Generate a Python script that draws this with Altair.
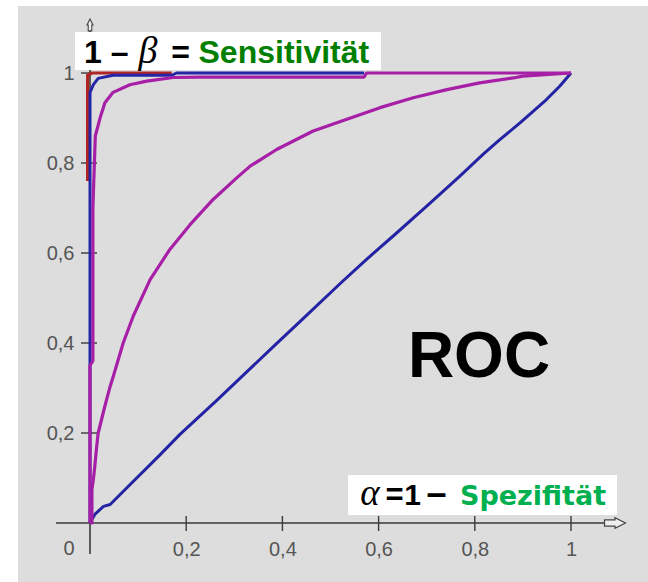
import altair as alt
import pandas as pd

# --- ROC curves: false positive rate (alpha) vs. true positive rate (1 - beta) ---
diag_x = [0.0, 0.01, 0.028, 0.042, 0.083, 0.146, 0.187, 0.263, 0.333, 0.385, 0.437,
          0.523, 0.575, 0.638, 0.707, 0.769, 0.817, 0.852, 0.894, 0.949, 0.977, 1.0]
diag_y = [0.0, 0.019, 0.037, 0.041, 0.085, 0.152, 0.197, 0.272, 0.343, 0.396, 0.448,
          0.535, 0.586, 0.645, 0.711, 0.771, 0.819, 0.852, 0.889, 0.941, 0.971, 1.0]

mid_x = [0.0, 0.004, 0.004, 0.007, 0.01, 0.014, 0.017, 0.024, 0.031, 0.042, 0.0485,
         0.069, 0.09, 0.125, 0.166, 0.208, 0.256, 0.305, 0.333, 0.388, 0.464, 0.534,
         0.603, 0.672, 0.742, 0.81, 0.88, 0.9, 1.0]
mid_y = [0.0, 0.0, 0.074, 0.097, 0.126, 0.171, 0.2, 0.23, 0.26, 0.304, 0.326,
         0.40, 0.46, 0.541, 0.608, 0.663, 0.719, 0.767, 0.793, 0.83, 0.871, 0.897,
         0.923, 0.945, 0.963, 0.978, 0.989, 0.993, 1.0]

red_x = [-0.005, -0.005, 0.004, 0.17]
red_y = [0.76, 0.995, 1.0, 1.0]

blue_x = [0.0, 0.0, 0.007, 0.017, 0.048, 0.17, 0.18, 0.57]
blue_y = [0.0, 0.957, 0.974, 0.988, 0.995, 0.995, 1.0, 1.0]

upper_x = [0.0, 0.0, 0.006, 0.006, 0.011, 0.022, 0.031, 0.048, 0.083, 0.118, 0.173,
           0.229, 0.57, 0.575, 1.0]
upper_y = [0.0, 0.35, 0.36, 0.70, 0.86, 0.904, 0.934, 0.957, 0.974, 0.982, 0.99,
           0.991, 0.991, 1.0, 1.0]

tick_values = [0.2, 0.4, 0.6, 0.8, 1.0]

W, H = 481, 450
LABEL_EXPR = "datum.value == 1 ? '1' : replace(format(datum.value, '.1f'), '.', ',')"

x_scale = alt.Scale(domain=[0, 1], nice=False, zero=False)
y_scale = alt.Scale(domain=[0, 1], nice=False, zero=False)


def make_axis():
    return alt.Axis(values=tick_values, labelExpr=LABEL_EXPR, domain=False, ticks=False,
                    tickSize=0, grid=False, labelFont="Liberation Sans", labelFontSize=20,
                    labelColor="#555555", labelPadding=16, labelFlush=False,
                    labelOverlap=False, zindex=1)


x_axis = make_axis()
y_axis = make_axis()


def curve_df(xs, ys):
    return pd.DataFrame({"fpr": xs, "tpr": ys, "i": list(range(len(xs)))})


def curve(xs, ys, color, width=3.2):
    return alt.Chart(curve_df(xs, ys)).mark_line(
        color=color, strokeWidth=width, clip=False, strokeJoin="round"
    ).encode(
        x=alt.X("fpr:Q", scale=x_scale, axis=x_axis, title=None),
        y=alt.Y("tpr:Q", scale=y_scale, axis=y_axis, title=None),
        order="i:Q",
    )


one = pd.DataFrame({"k": [0]})
ticks_df = pd.DataFrame({"v": tick_values})

# grey panel behind everything
panel = alt.Chart(one).mark_rect(color="#dddddd").encode(
    x=alt.value(-72), x2=alt.value(558), y=alt.value(-67), y2=alt.value(509)
)

AXIS_COLOR = "#3a3a3a"
x_line = alt.Chart(one).mark_rule(color=AXIS_COLOR, strokeWidth=1.6).encode(
    x=alt.value(-34), x2=alt.value(520), y=alt.value(H)
)
y_line = alt.Chart(one).mark_rule(color=AXIS_COLOR, strokeWidth=1.6).encode(
    x=alt.value(0), y=alt.value(-46), y2=alt.value(481)
)
x_ticks = alt.Chart(ticks_df).mark_rule(color=AXIS_COLOR, strokeWidth=1.4).encode(
    x=alt.X("v:Q", scale=x_scale), y=alt.value(H - 7), y2=alt.value(H + 8)
)
y_ticks = alt.Chart(ticks_df).mark_rule(color=AXIS_COLOR, strokeWidth=1.4).encode(
    y=alt.Y("v:Q", scale=y_scale), x=alt.value(-9), x2=alt.value(7)
)

ARROW = "M -1 -0.3 L 0 -0.3 L 0 -0.5 L 1 0 L 0 0.5 L 0 0.3 L -1 0.3 Z"
x_arrow = alt.Chart(one).mark_point(
    shape=ARROW, size=440, filled=True, fill="#eeeeee", stroke="#444444",
    strokeWidth=1.2, opacity=1
).encode(x=alt.value(525), y=alt.value(H))
y_arrow = alt.Chart(one).mark_point(
    shape=ARROW, size=140, angle=270, filled=True, fill="#eeeeee", stroke="#444444",
    strokeWidth=1.1, opacity=1
).encode(x=alt.value(0), y=alt.value(-48))

origin_label = alt.Chart(one).mark_text(
    text="0", font="Liberation Sans", fontSize=20, color="#555555",
    align="center", baseline="top"
).encode(x=alt.value(-21), y=alt.value(H + 16))


def label(txt, x, y, size, color="black", font="Liberation Sans", style="normal",
          weight="bold", align="left"):
    return alt.Chart(one).mark_text(
        text=txt, font=font, fontSize=size, fontStyle=style, fontWeight=weight,
        color=color, align=align, baseline="alphabetic"
    ).encode(x=alt.value(x), y=alt.value(y))


# white label boxes
top_box = alt.Chart(one).mark_rect(color="white").encode(
    x=alt.value(-15), x2=alt.value(291), y=alt.value(-41), y2=alt.value(-3)
)
bottom_box = alt.Chart(one).mark_rect(color="white").encode(
    x=alt.value(258), x2=alt.value(527), y=alt.value(402), y2=alt.value(442)
)

top_base = -10.5
top_texts = [
    label("1 \u2013", -6, top_base, 32),
    label("\u03b2", 58, top_base, 38, font="Liberation Serif", style="italic",
          weight="normal", align="center"),
    label("=", 90.5, top_base, 32, align="center"),
    label("Sensitivit\u00e4t", 108.5, top_base, 32, color="#007f00"),
]

bot_base = 431.5
bottom_texts = [
    label("\u03b1", 280, bot_base, 37, font="Liberation Serif", style="italic",
          weight="normal", align="center"),
    label("=", 304.5, bot_base, 31, align="center"),
    label("1", 322.5, bot_base, 30, align="center"),
    label("\u2013", 346.5, bot_base, 36, align="center"),
    label("Spezifit\u00e4t", 370, bot_base, 27, color="#00b050", font="DejaVu Sans"),
]

roc = label("ROC", 389, 304, 64, align="center")

chart = alt.layer(
    panel,
    x_line, y_line, x_ticks, y_ticks, x_arrow, y_arrow,
    curve(diag_x, diag_y, "#2323a3", 3.0),
    curve(mid_x, mid_y, "#a61fa6"),
    curve(red_x, red_y, "#b02626"),
    curve(blue_x, blue_y, "#2525a8", 3.0),
    curve(upper_x, upper_y, "#a61fa6"),
    origin_label,
    top_box, *top_texts,
    bottom_box, *bottom_texts,
    roc,
).properties(
    width=W,
    height=H,
    padding={"left": 90, "top": 73, "right": 77, "bottom": 59},
    autosize=alt.AutoSizeParams(type="none"),
    background="white",
).configure_view(stroke=None)

chart.save("out.html", embed_options={"renderer": "svg", "actions": False})
